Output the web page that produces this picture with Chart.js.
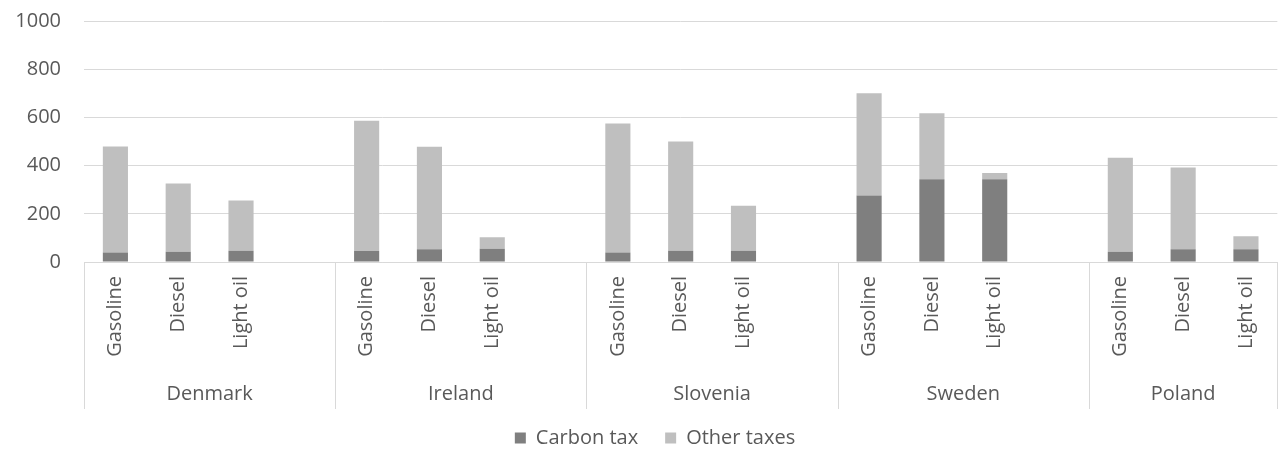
<!DOCTYPE html>
<html>
<head>
<meta charset="utf-8">
<script src="https://cdn.jsdelivr.net/npm/chart.js@4/dist/chart.umd.min.js"></script>
<style>
  html, body { margin: 0; padding: 0; background: #fff; overflow: hidden; }
  #wrap { width: 1284px; height: 472px; position: relative; }
</style>
</head>
<body>
<div id="wrap"><canvas id="taxes"></canvas></div>
<script>
// Taxes per fuel, grouped by country

var countries = ['Denmark', 'Ireland', 'Slovenia', 'Sweden', 'Poland'];
var fuels = ['Gasoline', 'Diesel', 'Light oil'];
var carbonTax = [39, 43, 47, 46, 53, 55, 39, 47, 47, 276, 343, 343, 43, 53, 53];
var otherTaxes = [440, 283, 208, 540, 425, 48, 536, 453, 186, 424, 274, 26, 390, 339, 54];
var yTicks = [0, 200, 400, 600, 800, 1000];

// build slots: three fuels per country, plus an empty slot between countries
var labels = [];
var carbonData = [];
var otherData = [];
var groupStart = [];
countries.forEach(function (c, ci) {
  groupStart.push(labels.length);
  fuels.forEach(function (f, fi) {
    labels.push(f);
    carbonData.push(carbonTax[ci * 3 + fi]);
    otherData.push(otherTaxes[ci * 3 + fi]);
  });
  if (ci < countries.length - 1) {
    labels.push('');
    carbonData.push(null);
    otherData.push(null);
  }
});

var textColor = '#595959';
var lineColor = '#d9d9d9';
Chart.defaults.font.family = '"Open Sans", sans-serif';
Chart.defaults.font.size = 20;
Chart.defaults.color = textColor;

// country names and separators under the fuel labels
var groupAxis = {
  id: 'groupAxis',
  afterLayout: function (chart) {
    // legend sits a bit right of the canvas centre in the original
    chart.legend.left += 28;
  },
  afterDraw: function (chart) {
    var ctx = chart.ctx;
    var x = chart.scales.x;
    var area = chart.chartArea;
    var step = x.getPixelForValue(1) - x.getPixelForValue(0);
    var edges = [];
    groupStart.forEach(function (s) {
      edges.push(x.getPixelForValue(s) - step / 2);
    });
    edges.push(area.right);
    ctx.save();
    ctx.strokeStyle = lineColor;
    ctx.lineWidth = 1;
    edges.forEach(function (e) {
      var px = Math.round(e) + 0.5;
      ctx.beginPath();
      ctx.moveTo(px, area.bottom);
      ctx.lineTo(px, area.bottom + 147);
      ctx.stroke();
    });
    ctx.fillStyle = textColor;
    ctx.font = '20px "Open Sans", sans-serif';
    ctx.textAlign = 'center';
    ctx.textBaseline = 'middle';
    countries.forEach(function (c, i) {
      ctx.fillText(c, (edges[i] + edges[i + 1]) / 2, area.bottom + 132);
    });
    ctx.restore();
  }
};

var taxes = document.getElementById('taxes').getContext('2d');
new Chart(taxes, {
  type: 'bar',
  data: {
    labels: labels,
    datasets: [
      {
        label: 'Carbon tax',
        backgroundColor: '#7f7f7f',
        data: carbonData,
        barPercentage: 0.4,
        categoryPercentage: 1
      },
      {
        label: 'Other taxes',
        backgroundColor: '#bfbfbf',
        data: otherData,
        barPercentage: 0.4,
        categoryPercentage: 1
      }
    ]
  },
  options: {
    responsive: true,
    maintainAspectRatio: false,
    animation: false,
    layout: { padding: { top: 21, left: 0, right: 2, bottom: 14 } },
    plugins: {
      title: { display: false },
      tooltip: { enabled: false },
      legend: {
        position: 'bottom',
        labels: {
          boxWidth: 11,
          boxHeight: 11,
          padding: 27,
          color: textColor,
          font: { size: 20 }
        }
      }
    },
    scales: {
      x: {
        stacked: true,
        grid: { display: false, drawTicks: false },
        border: { display: true, color: lineColor },
        ticks: {
          autoSkip: false,
          maxRotation: 90,
          minRotation: 90,
          padding: 14,
          color: textColor
        },
        afterFit: function (scale) { scale.height = 139; }
      },
      y: {
        stacked: true,
        min: 0,
        max: 1000,
        afterBuildTicks: function (scale) {
          scale.ticks = yTicks.map(function (v) { return { value: v }; });
        },
        grid: { color: lineColor, drawTicks: true, tickLength: 23, tickColor: 'rgba(0,0,0,0)' },
        border: { display: false },
        ticks: {
          padding: 0,
          color: textColor,
          callback: function (v) { return String(v); }
        },
        afterFit: function (scale) { scale.width = 84; }
      }
    }
  },
  plugins: [groupAxis]
});
</script>
</body>
</html>
